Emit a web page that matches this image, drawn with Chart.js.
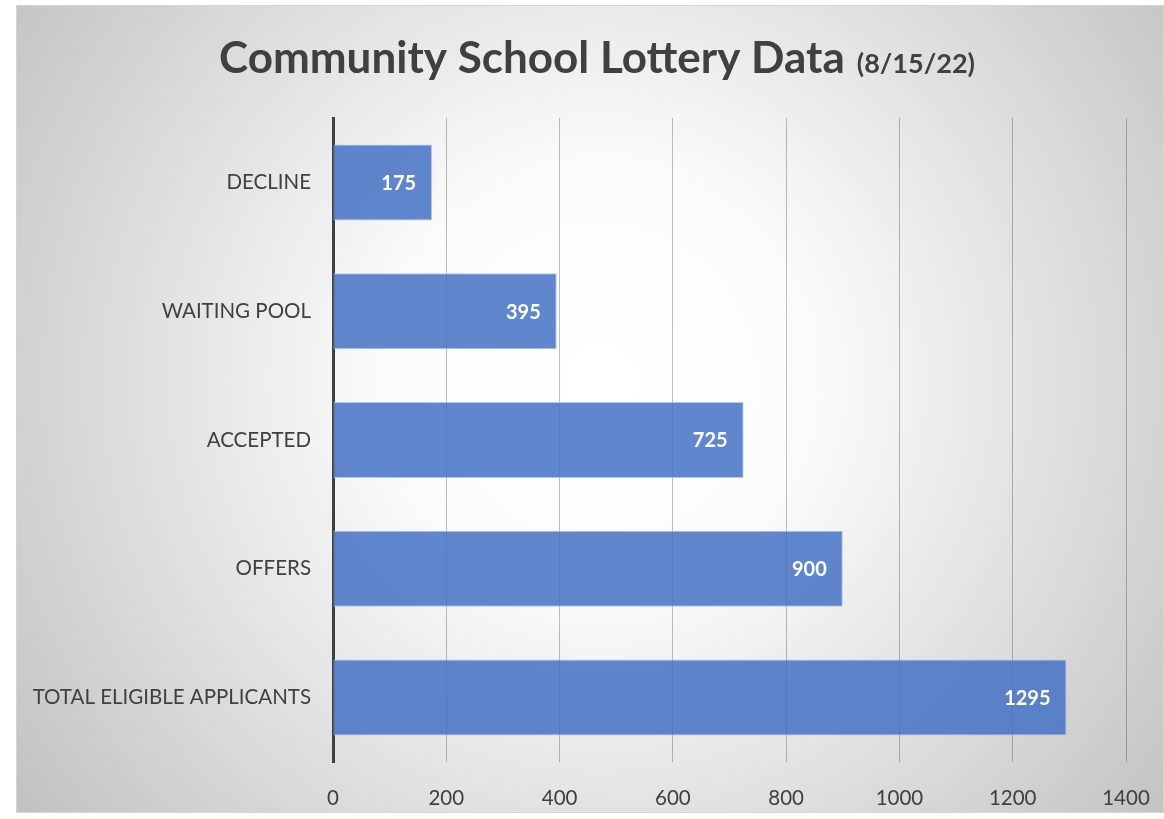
<!DOCTYPE html>
<html>
<head>
<meta charset="utf-8">
<script src="https://cdn.jsdelivr.net/npm/chart.js@4"></script>
<style>
  html, body { margin: 0; padding: 0; background: #fff; }
  canvas { display: block; }
</style>
</head>
<body>
<canvas id="myChart" width="1164" height="819"></canvas>
<script>
const categories = ['DECLINE', 'WAITING POOL', 'ACCEPTED', 'OFFERS', 'TOTAL ELIGIBLE APPLICANTS'];
const counts = [175, 395, 725, 900, 1295];
const tickValues = [0, 200, 400, 600, 800, 1000, 1200, 1400];
const titleMain = 'Community School Lottery Data';
const titleDate = '(8/15/22)';

const FONT = 'Lato, "Open Sans", sans-serif';
const TEXT = '#404040';

// panel background: radial grey-to-white fill with a thin frame
const panelBg = {
    id: 'panelBg',
    beforeDraw(chart) {
        const c = chart.ctx;
        const x0 = 16, y0 = 5, x1 = 1164, y1 = 813;
        const g = c.createRadialGradient(600, 380, 0, 600, 380, 720);
        g.addColorStop(0, '#ffffff');
        g.addColorStop(0.3, '#fbfbfb');
        g.addColorStop(1, '#c2c2c2');
        c.save();
        c.fillStyle = g;
        c.fillRect(x0, y0, x1 - x0, y1 - y0);
        c.strokeStyle = '#d4d4d4';
        c.lineWidth = 1;
        c.strokeRect(x0 + 0.5, y0 + 0.5, x1 - x0 - 1, y1 - y0 - 1);
        c.restore();
    }
};

// title in two sizes, drawn centred
const twoPartTitle = {
    id: 'twoPartTitle',
    afterDraw(chart) {
        const c = chart.ctx;
        c.save();
        c.fillStyle = TEXT;
        c.textBaseline = 'alphabetic';
        c.font = 'bold 44px ' + FONT;
        const w1 = c.measureText(titleMain).width;
        c.font = 'bold 27px ' + FONT;
        const gap = 12;
        const w2 = c.measureText(titleDate).width;
        const start = 597 - (w1 + gap + w2) / 2;
        c.font = 'bold 44px ' + FONT;
        c.textAlign = 'left';
        c.fillText(titleMain, start, 73);
        c.font = 'bold 27px ' + FONT;
        c.fillText(titleDate, start + w1 + gap, 73);
        c.restore();
    }
};

// white value labels inside the end of each bar
const valueLabels = {
    id: 'valueLabels',
    afterDatasetsDraw(chart) {
        const c = chart.ctx;
        const meta = chart.getDatasetMeta(0);
        c.save();
        c.fillStyle = '#ffffff';
        c.font = 'bold 20px ' + FONT;
        c.textAlign = 'right';
        c.textBaseline = 'middle';
        meta.data.forEach((bar, i) => {
            c.fillText(String(counts[i]), bar.x - 16, bar.y + 1);
        });
        c.restore();
    }
};

const ctx = document.getElementById('myChart').getContext('2d');
new Chart(ctx, {
    type: 'bar',
    data: {
        labels: categories,
        datasets: [{
            label: 'Count',
            data: counts,
            backgroundColor: 'rgba(68, 114, 196, 0.85)',
            borderColor: 'rgba(170, 195, 235, 0.9)',
            borderWidth: 1,
            borderSkipped: false,
            barPercentage: 1,
            categoryPercentage: 0.59
        }]
    },
    options: {
        indexAxis: 'y',
        responsive: false,
        animation: false,
        layout: { padding: { top: 118, right: 38, left: 0, bottom: 0 } },
        plugins: {
            legend: { display: false },
            title: { display: false },
            tooltip: { enabled: false }
        },
        scales: {
            x: {
                min: 0,
                max: 1400,
                afterBuildTicks(scale) {
                    scale.ticks = tickValues.map(v => ({ value: v }));
                },
                afterFit(scale) {
                    scale.height = 57;
                    scale.paddingLeft = 0;
                    scale.paddingRight = 0;
                },
                grid: {
                    color: 'rgba(0, 0, 0, 0.25)',
                    lineWidth: 1,
                    drawTicks: false
                },
                border: { display: false },
                ticks: {
                    padding: 24,
                    color: TEXT,
                    font: { family: FONT, size: 20.5 },
                    callback: v => String(v)
                }
            },
            y: {
                afterFit(scale) { scale.width = 333; },
                grid: { display: false, drawTicks: false },
                border: { display: true, color: '#404040', width: 3 },
                ticks: {
                    padding: 22,
                    color: TEXT,
                    font: { family: FONT, size: 20.5 }
                }
            }
        }
    },
    plugins: [panelBg, twoPartTitle, valueLabels]
});
</script>
</body>
</html>
